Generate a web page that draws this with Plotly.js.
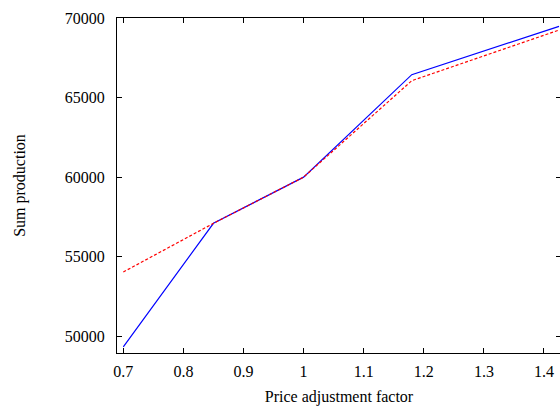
<!DOCTYPE html>
<html>
<head>
<meta charset="utf-8">
<script src="https://cdn.plot.ly/plotly-3.0.1.min.js"></script>
<style>
html,body{margin:0;padding:0;overflow:hidden;background:#fff;}
#chart{width:561px;height:406px;}
</style>
</head>
<body>
<div id="chart"></div>
<script>
const priceFactor = [0.7, 0.85, 1.0, 1.18, 1.425];
const seriesBlue = [49340, 57100, 60000, 66440, 69470];
const seriesRed = [54040, 57100, 60000, 66060, 69240];
const xTickVals = [0.7, 0.8, 0.9, 1.0, 1.1, 1.2, 1.3, 1.4];
const xTickText = ['0.7', '0.8', '0.9', '1', '1.1', '1.2', '1.3', '1.4'];
const yTickVals = [50000, 55000, 60000, 65000, 70000];
const yTickText = ['50000', '55000', '60000', '65000', '70000'];

const font = {family: 'Liberation Serif, Times New Roman, serif', size: 16, color: '#000'};

const traces = [
  {x: priceFactor, y: seriesBlue, type: 'scatter', mode: 'lines',
   line: {color: 'rgb(0,0,255)', width: 1.2}, name: 'blue', showlegend: false},
  {x: priceFactor, y: seriesRed, type: 'scatter', mode: 'lines',
   line: {color: 'rgb(255,0,0)', width: 1.2, dash: '3px,2px'}, name: 'red', showlegend: false}
];

const layout = {
  width: 561, height: 406,
  margin: {l: 117, r: 0, t: 18, b: 53},
  paper_bgcolor: '#fff', plot_bgcolor: '#fff',
  font: font,
  showlegend: false,
  xaxis: {
    range: [0.6895, 1.4283],
    tickvals: xTickVals, ticktext: xTickText,
    ticks: 'inside', ticklen: 5, tickcolor: '#000', tickwidth: 1,
    showline: true, linecolor: '#000', linewidth: 1, mirror: 'ticks',
    showgrid: false, zeroline: false,
    tickfont: font,
    ticklabelstandoff: 4,
    title: {text: 'Price adjustment factor', font: font, standoff: 12}
  },
  yaxis: {
    range: [48950, 70000],
    tickvals: yTickVals, ticktext: yTickText,
    ticks: 'inside', ticklen: 5, tickcolor: '#000', tickwidth: 1,
    showline: true, linecolor: '#000', linewidth: 1, mirror: 'ticks',
    showgrid: false, zeroline: false,
    tickfont: font,
    ticklabelstandoff: 8,
    title: {text: 'Sum production', font: font, standoff: 35}
  }
};

Plotly.newPlot('chart', traces, layout, {displayModeBar: false, staticPlot: true});
</script>
</body>
</html>
